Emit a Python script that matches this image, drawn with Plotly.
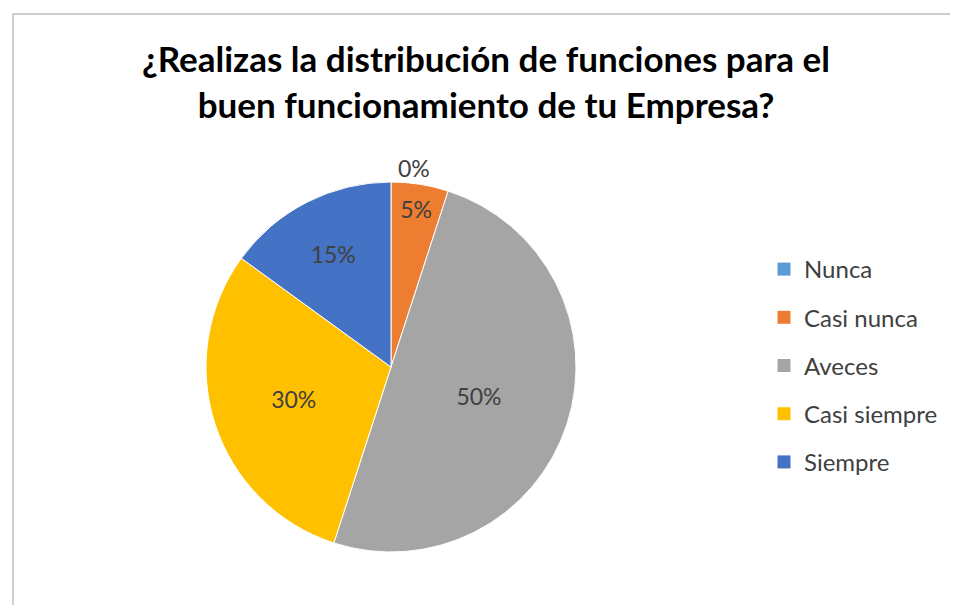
import plotly.graph_objects as go

categories = ["Nunca", "Casi nunca", "Aveces", "Casi siempre", "Siempre"]
values = [0, 5, 50, 30, 15]
colors = ["#5B9BD5", "#ED7D31", "#A5A5A5", "#FFC000", "#4472C4"]

W, H = 958, 605
FONT = "Lato, 'Open Sans', sans-serif"

fig = go.Figure()

# pie itself, legend drawn by dummy traces so the row spacing can match
fig.add_trace(
    go.Pie(
        labels=categories,
        values=values,
        sort=False,
        direction="clockwise",
        rotation=0,
        marker=dict(colors=colors, line=dict(color="white", width=1)),
        textinfo="percent",
        texttemplate="%{percent:.0%}",
        textposition=["outside", "inside", "inside", "inside", "inside"],
        insidetextorientation="horizontal",
        textfont=dict(family=FONT, size=23, color="#404040"),
        showlegend=False,
        domain=dict(x=[198 / W, 568 / W], y=[1 - 544 / H, 1 - 174 / H]),
        hoverinfo="label+percent",
    )
)

for name, col in zip(categories, colors):
    fig.add_trace(
        go.Scatter(
            x=[None], y=[None], mode="markers", name=name,
            legendgroup=name,
            marker=dict(symbol="square", size=13, color=col),
        )
    )

fig.update_layout(
    width=W,
    height=H,
    margin=dict(l=0, r=0, t=0, b=0),
    paper_bgcolor="white",
    plot_bgcolor="white",
    xaxis=dict(visible=False),
    yaxis=dict(visible=False),
    title=dict(
        text="¿Realizas la distribución de funciones para el<br>buen funcionamiento de tu Empresa?",
        x=478 / W, xanchor="center",
        y=1 - 64 / H, yanchor="middle",
        font=dict(family=FONT, size=35, color="#000000", weight="bold"),
    ),
    legend=dict(
        x=756 / W, xanchor="left",
        y=1 - 239 / H, yanchor="top",
        font=dict(family=FONT, size=24, color="#404040"),
        tracegroupgap=14,
        itemwidth=30,
    ),
    shapes=[
        dict(type="rect", xref="paper", yref="paper",
             x0=5 / W, x1=1.01, y0=-0.01, y1=1 - 6 / H,
             line=dict(color="#BFBFBF", width=1.5)),
    ],
)

fig.write_html("out.html")
